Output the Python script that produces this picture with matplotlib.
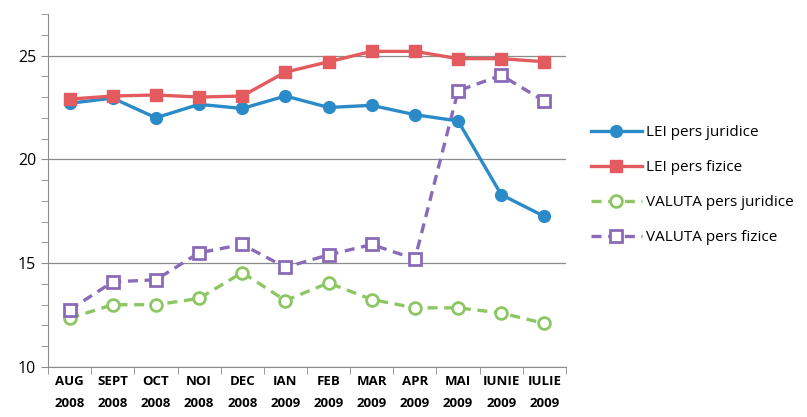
import matplotlib.pyplot as plt
import numpy as np
from matplotlib.ticker import MultipleLocator

months = ['AUG\n2008', 'SEPT\n2008', 'OCT\n2008', 'NOI\n2008', 'DEC\n2008', 'IAN\n2009',
          'FEB\n2009', 'MAR\n2009', 'APR\n2009', 'MAI\n2009', 'IUNIE\n2009', 'IULIE\n2009']
lei_juridice = [22.7, 22.95, 22.0, 22.65, 22.45, 23.05, 22.5, 22.6, 22.15, 21.85, 18.3, 17.25]
lei_fizice = [22.9, 23.05, 23.1, 23.0, 23.05, 24.2, 24.7, 25.2, 25.2, 24.85, 24.85, 24.7]
valuta_juridice = [12.35, 13.0, 13.0, 13.3, 14.55, 13.2, 14.05, 13.25, 12.85, 12.85, 12.6, 12.1]
valuta_fizice = [12.75, 14.1, 14.2, 15.5, 15.9, 14.8, 15.4, 15.9, 15.2, 23.3, 24.05, 22.8]

plt.rcParams['font.family'] = ['Open Sans', 'DejaVu Sans']

fig = plt.figure(figsize=(8.07, 4.17), dpi=100)
ax = fig.add_axes([48 / 807, 1 - 367 / 417, (566 - 48) / 807, (367 - 14) / 417])
x = np.arange(len(months))

ax.plot(x, lei_juridice, color='#2a8bc8', lw=2.4, marker='o', ms=8.5,
        label='LEI pers juridice', zorder=4)
ax.plot(x, lei_fizice, color='#e35b5e', lw=2.4, marker='s', ms=9,
        label='LEI pers fizice', zorder=4)
ax.plot(x, valuta_juridice, color='#8cc764', lw=2.4, ls=(0, (3, 2)), marker='o', ms=8.5,
        mfc='white', mew=2, label='VALUTA pers juridice', zorder=3)
ax.plot(x, valuta_fizice, color='#8b6bb9', lw=2.4, ls=(0, (3, 2)), marker='s', ms=9,
        mfc='white', mew=2, label='VALUTA pers fizice', zorder=3)

ax.set_xlim(-0.5, len(months) - 0.5)
ax.set_ylim(10, 27)
ax.yaxis.set_major_locator(MultipleLocator(5))
ax.yaxis.set_minor_locator(MultipleLocator(1))
ax.grid(axis='y', which='major', color='#8c8c8c', lw=0.9)
ax.set_axisbelow(True)

ax.set_xticks(x)
ax.set_xticklabels(months, fontsize=9.5, fontweight='bold', linespacing=1.85)
ax.set_xticks(np.arange(-0.5, len(months)), minor=True)
ax.tick_params(axis='x', which='major', length=0, pad=6)
ax.tick_params(axis='x', which='minor', length=5, color='#8c8c8c')
ax.tick_params(axis='y', which='both', length=5, color='#8c8c8c', labelsize=11.5)

for s in ['top', 'right']:
    ax.spines[s].set_visible(False)
for s in ['left', 'bottom']:
    ax.spines[s].set_color('#8c8c8c')

ax.legend(loc='center left', bbox_to_anchor=(1.022, 0.515), frameon=False,
          fontsize=11, handlelength=3.3, labelspacing=1.3, handletextpad=0.3)

fig.savefig('out.png', dpi=100)
